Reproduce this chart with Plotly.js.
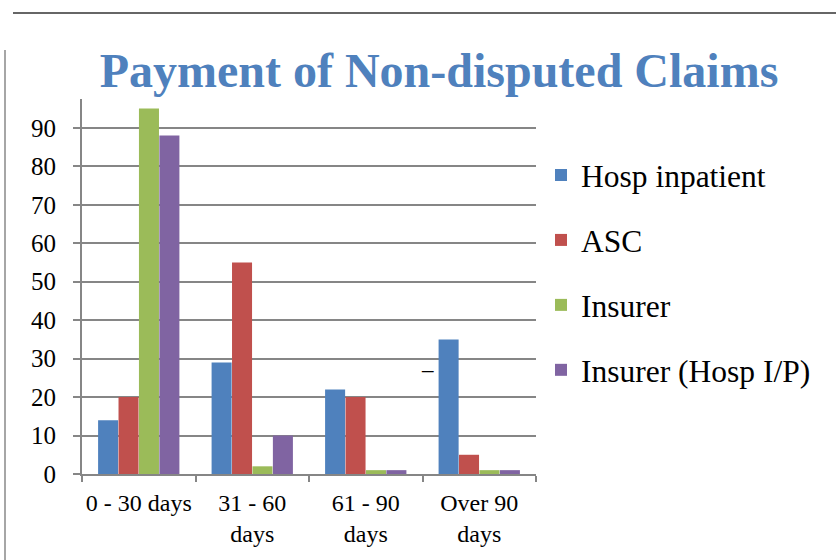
<!DOCTYPE html>
<html>
<head>
<meta charset="utf-8">
<script src="https://cdn.plot.ly/plotly-3.0.1.min.js"></script>
<style>html,body{margin:0;padding:0;background:#fff;}#chart{width:836px;height:560px;}</style>
</head>
<body>
<div id="chart"></div>
<script>
var categories = ["0 - 30 days", "31 - 60<br>days", "61 - 90<br>days", "Over 90<br>days"];
var seriesNames = ["Hosp inpatient", "ASC", "Insurer", "Insurer (Hosp I/P)"];
var hospInpatient = [14, 29, 22, 35];
var asc = [20, 55, 20, 5];
var insurer = [95, 2, 1, 1];
var insurerHospIP = [88, 10, 1, 1];
var yTicks = [0, 10, 20, 30, 40, 50, 60, 70, 80, 90];

var colors = ["#4F81BD", "#C0504D", "#9BBB59", "#8064A2"];
var values = [hospInpatient, asc, insurer, insurerHospIP];
var font = "Liberation Serif, Times New Roman, serif";

var traces = values.map(function (v, i) {
  return {
    type: "bar",
    x: categories,
    y: v,
    name: seriesNames[i],
    legendgroup: "g" + i,
    marker: { color: colors[i], line: { width: 0 } },
    hoverinfo: "none"
  };
});

var L = 82, R = 536, T = 99, B = 474;
function px(x) { return (x - L) / (R - L); }
function py(y) { return (B - y) / (B - T); }

var layout = {
  width: 836, height: 560,
  margin: { l: L, r: 836 - R, t: T, b: 560 - B, pad: 0 },
  paper_bgcolor: "#fff", plot_bgcolor: "#fff",
  font: { family: font, color: "#000" },
  title: {
    text: "<b>Payment of Non-disputed Claims</b>",
    font: { family: font, size: 48, color: "#4F81BD" },
    x: 439 / 836, xanchor: "center", xref: "container",
    y: 1 - 70 / 560, yanchor: "middle", yref: "container"
  },
  barmode: "group",
  bargap: 0.28,
  bargroupgap: 0.02,
  xaxis: {
    type: "category",
    showline: true, linecolor: "#868686", linewidth: 2,
    ticks: "outside", tickson: "boundaries", ticklen: 6, tickcolor: "#868686", tickwidth: 2,
    tickfont: { family: font, size: 24, color: "#000" },
    tickangle: 0,
    automargin: false,
    ticklabelstandoff: 6,
    showgrid: false, zeroline: false, fixedrange: true
  },
  yaxis: {
    range: [0, 97.5],
    tickvals: yTicks,
    showline: true, linecolor: "#868686", linewidth: 2,
    ticks: "outside", ticklen: 7, tickcolor: "#868686", tickwidth: 2,
    showgrid: true, gridcolor: "#868686", gridwidth: 2,
    zeroline: false,
    tickfont: { family: font, size: 25, color: "#000" },
    ticklabelstandoff: 12,
    fixedrange: true
  },
  showlegend: true,
  legend: {
    x: px(541), y: py(148), xanchor: "left", yanchor: "top",
    font: { family: font, size: 31.5, color: "#000" },
    traceorder: "grouped", tracegroupgap: 21,
    itemwidth: 30,
    bgcolor: "rgba(0,0,0,0)"
  },
  shapes: [
    { type: "line", xref: "paper", yref: "paper", x0: px(13), x1: px(836), y0: py(13), y1: py(13),
      line: { color: "#333", width: 1.5 } },
    { type: "line", xref: "paper", yref: "paper", x0: px(5), x1: px(5), y0: py(50), y1: py(560),
      line: { color: "#888", width: 1.5 } }
  ],
  annotations: [
    { xref: "paper", yref: "paper", x: px(427), y: py(369), text: "–", showarrow: false,
      font: { family: font, size: 23, color: "#000" }, xanchor: "center", yanchor: "middle" }
  ]
};

Plotly.newPlot("chart", traces, layout, { displayModeBar: false, staticPlot: true });
</script>
</body>
</html>
